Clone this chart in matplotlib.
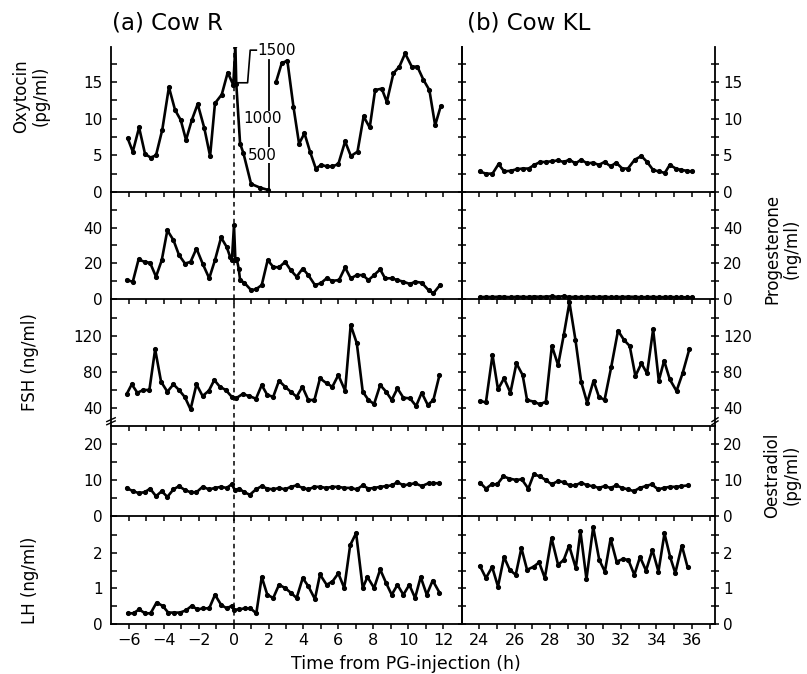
import matplotlib
matplotlib.use("Agg")
import matplotlib.pyplot as plt
import numpy as np

plt.rcParams['font.family'] = ['DejaVu Sans']

# ---------------- data: Cow R (left) ----------------
oxy_R_pre_t = [-6.07, -5.78, -5.42, -5.08, -4.76, -4.45, -4.09, -3.71, -3.36, -3.03,
               -2.73, -2.40, -2.06, -1.68, -1.35, -1.07, -0.68, -0.34, -0.02]
oxy_R_pre_v = [7.3, 5.5, 8.8, 5.2, 4.7, 5.0, 8.5, 14.3, 11.2, 9.8,
               7.1, 9.8, 12.0, 8.7, 4.9, 12.1, 13.3, 16.3, 14.6]
# spike after PG injection, in pg/ml (drawn on a x1/100 scale)
oxy_R_spike_t = [0.10, 0.15, 0.37, 0.56, 1.00, 1.51, 1.99]
oxy_R_spike_pgml = [2000, 1480, 660, 530, 110, 60, 27]
oxy_R_post_t = [2.43, 2.76, 3.08, 3.43, 3.75, 4.06, 4.38, 4.71, 5.02, 5.33,
                5.66, 6.0, 6.39, 6.72, 7.1, 7.45, 7.8, 8.11, 8.49, 8.78,
                9.16, 9.5, 9.83, 10.21, 10.53, 10.88, 11.22, 11.55, 11.87]
oxy_R_post_v = [15.0, 17.6, 17.9, 11.6, 6.6, 8.0, 5.5, 3.2, 3.7, 3.5,
                3.5, 3.8, 6.9, 4.9, 5.5, 10.3, 8.8, 13.9, 14.1, 12.3,
                16.2, 17.1, 18.9, 17.1, 17.1, 15.3, 13.9, 9.1, 11.7]
spike_scale_labels = [1500, 1000, 500]

prog_R_t = [-6.13, -5.78, -5.45, -5.1, -4.79, -4.45, -4.12, -3.8, -3.45, -3.13,
            -2.79, -2.47, -2.13, -1.78, -1.4, -1.07, -0.72, -0.4, -0.2, -0.1,
            0.02, 0.1, 0.17, 0.29, 0.37, 0.61, 1.0, 1.27, 1.61, 1.95,
            2.27, 2.6, 2.95, 3.27, 3.61, 3.96, 4.28, 4.66, 4.99, 5.33,
            5.66, 6.04, 6.39, 6.71, 7.06, 7.4, 7.73, 8.05, 8.4, 8.68,
            9.06, 9.39, 9.73, 10.11, 10.4, 10.78, 11.17, 11.45, 11.83]
prog_R_v = [10.6, 9.7, 22.2, 20.8, 20.3, 12.5, 21.8, 38.5, 33, 24.6,
            19.9, 20.8, 28.3, 19.9, 11.6, 21.8, 34.5, 29.2, 23.6, 21.8,
            41.3, 21.8, 22.7, 17.1, 10.6, 9.1, 5.0, 5.4, 7.8, 21.8,
            18, 17.7, 20.8, 16.2, 12.5, 17.1, 13.4, 7.8, 8.8, 11.6,
            10.2, 10.6, 17.7, 11.6, 13.4, 13.4, 10.6, 13.4, 16.6, 11.6,
            11.6, 10.6, 9.7, 8.4, 9.7, 9.1, 5.0, 3.2, 7.8]

fsh_R_t = [-6.13, -5.84, -5.52, -5.17, -4.83, -4.5, -4.16, -3.8, -3.45, -3.13,
           -2.79, -2.47, -2.13, -1.78, -1.42, -1.11, -0.79, -0.45, -0.11, 0.13,
           0.51, 0.89, 1.28, 1.61, 1.93, 2.27, 2.6, 2.95, 3.27, 3.61,
           3.94, 4.28, 4.63, 4.95, 5.33, 5.66, 6.0, 6.39, 6.71, 7.06,
           7.4, 7.73, 8.05, 8.4, 8.74, 9.06, 9.39, 9.73, 10.11, 10.46,
           10.78, 11.13, 11.45, 11.8]
fsh_R_v = [55.2, 66, 56.7, 59.7, 59.7, 104.9, 68.9, 57.8, 66, 59.7,
           51.6, 38.2, 66, 53, 58.9, 70.8, 63.3, 59.7, 52.2, 50.4,
           55.2, 53, 50, 65.2, 54.1, 52.2, 70, 63.3, 57.8, 52.2,
           63.3, 48.6, 48.6, 72.7, 67.1, 63.3, 76.3, 58.9, 131.9, 111.6,
           57.8, 48.6, 44.1, 65.2, 57.8, 48.6, 61.5, 51.1, 50.4, 41.9,
           56.7, 43, 48.6, 76.3]

e2_R_t = [-6.13, -5.78, -5.45, -5.1, -4.79, -4.45, -4.12, -3.8, -3.45, -3.13,
          -2.79, -2.47, -2.13, -1.78, -1.4, -1.07, -0.72, -0.4, -0.11, 0.07,
          0.32, 0.61, 0.93, 1.28, 1.61, 1.93, 2.27, 2.6, 2.95, 3.27,
          3.61, 3.96, 4.28, 4.63, 4.95, 5.3, 5.66, 6.0, 6.34, 6.71,
          7.06, 7.4, 7.73, 8.05, 8.4, 8.74, 9.06, 9.39, 9.73, 10.07,
          10.4, 10.78, 11.17, 11.45, 11.8]
e2_R_v = [7.8, 6.9, 6.4, 6.6, 7.6, 5.5, 6.9, 5.3, 7.4, 8.3,
          7.2, 6.6, 6.6, 8.1, 7.4, 7.8, 8.1, 7.8, 8.8, 7.2,
          7.6, 6.6, 5.9, 7.4, 8.3, 7.6, 7.4, 7.8, 7.4, 8.1,
          8.5, 7.8, 7.4, 8.1, 8.1, 7.8, 8.1, 8.1, 7.8, 7.8,
          7.4, 8.5, 7.6, 7.8, 8.1, 8.3, 8.5, 9.4, 8.5, 8.8,
          9.1, 8.3, 9.1, 9.1, 9.1]

lh_R_t = [-6.07, -5.74, -5.42, -5.08, -4.76, -4.42, -4.07, -3.75, -3.4, -3.08,
          -2.74, -2.4, -2.08, -1.74, -1.4, -1.07, -0.72, -0.4, -0.11, 0.02,
          0.32, 0.63, 0.96, 1.3, 1.61, 1.93, 2.27, 2.6, 2.95, 3.27,
          3.61, 3.96, 4.28, 4.66, 4.95, 5.33, 5.66, 6.0, 6.34, 6.68,
          7.02, 7.4, 7.67, 8.05, 8.4, 8.74, 9.06, 9.39, 9.73, 10.07,
          10.4, 10.72, 11.07, 11.41, 11.8]
lh_R_v = [0.30, 0.30, 0.41, 0.30, 0.30, 0.60, 0.51, 0.32, 0.32, 0.32,
          0.38, 0.51, 0.41, 0.44, 0.44, 0.82, 0.54, 0.44, 0.51, 0.40,
          0.41, 0.44, 0.44, 0.30, 1.32, 0.82, 0.73, 1.10, 1.01, 0.88,
          0.73, 1.29, 1.06, 0.70, 1.39, 1.10, 1.19, 1.42, 1.01, 2.21,
          2.55, 1.01, 1.32, 1.01, 1.53, 1.15, 0.82, 1.10, 0.82, 1.10,
          0.73, 1.32, 0.82, 1.22, 0.88]

# ---------------- data: Cow KL (right) ----------------
oxy_KL_t = [24.04, 24.38, 24.75, 25.09, 25.41, 25.79, 26.11, 26.45, 26.79, 27.11,
            27.45, 27.77, 28.11, 28.43, 28.77, 29.09, 29.43, 29.75, 30.09, 30.41,
            30.75, 31.07, 31.41, 31.73, 32.07, 32.39, 32.77, 33.15, 33.47, 33.81,
            34.15, 34.47, 34.75, 35.09, 35.41, 35.7, 35.98]
oxy_KL_v = [2.8, 2.5, 2.5, 3.8, 2.8, 2.9, 3.1, 3.2, 3.2, 3.7,
            4.1, 4.1, 4.2, 4.3, 4.1, 4.4, 3.9, 4.4, 3.9, 4.0,
            3.7, 4.1, 3.5, 4.0, 3.2, 3.2, 4.4, 4.9, 4.1, 3.0,
            2.8, 2.6, 3.7, 3.2, 3.0, 2.9, 2.8]
prog_KL_t = oxy_KL_t
prog_KL_v = [1.0, 1.2, 1.1, 1.3, 1.2, 1.0, 1.3, 1.2, 1.1, 1.4,
             1.2, 1.3, 1.5, 1.2, 1.6, 1.1, 1.2, 1.0, 1.3, 1.2,
             1.1, 1.3, 1.0, 1.2, 1.1, 1.3, 1.2, 1.0, 1.1, 1.2,
             1.0, 1.1, 1.2, 1.0, 1.1, 0.9, 1.0]
fsh_KL_t = [24.04, 24.38, 24.75, 25.06, 25.4, 25.76, 26.1, 26.45, 26.7, 27.08,
            27.42, 27.76, 28.1, 28.45, 28.77, 29.09, 29.43, 29.75, 30.09, 30.45,
            30.75, 31.07, 31.45, 31.83, 32.17, 32.49, 32.81, 33.15, 33.47, 33.81,
            34.13, 34.43, 34.75, 35.13, 35.47, 35.85]
fsh_KL_v = [47.4, 46, 98.6, 60.4, 72.7, 56.7, 89.3, 76.3, 48.6, 46.7,
            43.8, 46.7, 108.6, 87.4, 120.8, 157, 115.2, 68.9, 45.6, 70,
            52.2, 48.6, 85.6, 125.6, 115.2, 108.6, 75.2, 89.3, 78.1, 127.1,
            70, 92.2, 71.5, 58.6, 78.1, 104.9]
e2_KL_t = [24.04, 24.38, 24.7, 25.02, 25.36, 25.7, 26.08, 26.4, 26.77, 27.08,
           27.42, 27.76, 28.08, 28.45, 28.77, 29.1, 29.43, 29.75, 30.09, 30.41,
           30.75, 31.07, 31.41, 31.73, 32.07, 32.39, 32.73, 33.05, 33.39, 33.73,
           34.09, 34.41, 34.75, 35.09, 35.41, 35.79]
e2_KL_v = [9.3, 7.6, 8.8, 8.8, 11.0, 10.4, 10.0, 10.2, 7.6, 11.6,
           11.0, 10.0, 8.8, 9.7, 9.4, 8.5, 8.5, 9.3, 8.5, 8.3,
           7.8, 8.3, 7.8, 8.5, 7.8, 7.4, 6.9, 7.8, 8.3, 8.8,
           7.4, 7.8, 8.1, 8.1, 8.3, 8.5]
lh_KL_t = [24.04, 24.38, 24.73, 25.06, 25.4, 25.72, 26.06, 26.38, 26.7, 27.08,
           27.38, 27.7, 28.08, 28.45, 28.77, 29.07, 29.45, 29.71, 30.05, 30.43,
           30.77, 31.09, 31.41, 31.75, 32.09, 32.41, 32.75, 33.07, 33.41, 33.77,
           34.11, 34.45, 34.77, 35.06, 35.43, 35.75]
lh_KL_v = [1.63, 1.29, 1.60, 1.05, 1.88, 1.52, 1.38, 2.13, 1.52, 1.61,
           1.73, 1.29, 2.41, 1.66, 1.80, 2.20, 1.57, 2.60, 1.26, 2.72,
           1.80, 1.47, 2.39, 1.75, 1.82, 1.80, 1.38, 1.88, 1.50, 2.08,
           1.47, 2.54, 1.88, 1.43, 2.20, 1.60]

# axis settings
ylims = [(0, 19.78), (0, 60), (19.7, 160.8), (0, 25), (0, 3.03)]
ymajor = [[0, 5, 10, 15], [0, 20, 40], [40, 80, 120], [0, 10, 20], [0, 1, 2]]
yminor = [[2.5, 7.5, 12.5, 17.5], [10, 30, 50], [60, 100, 140], [5, 15], [0.5, 1.5, 2.5]]
left_xticks = [-6, -4, -2, 0, 2, 4, 6, 8, 10, 12]
right_xticks = [24, 26, 28, 30, 32, 34, 36]

# ---------------- figure ----------------
W, H = 807, 674
fig = plt.figure(figsize=(W / 100, H / 100), dpi=100)
rows_px = [(47, 192), (192, 299), (299, 426), (426, 516), (516, 624)]
Lx0, Lx1 = 111, 462
Rx0, Rx1 = 462, 715

def rect(x0, x1, y0, y1):
    return [x0 / W, 1 - y1 / H, (x1 - x0) / W, (y1 - y0) / H]

line_kw = dict(color='k', lw=1.9, marker='o', ms=2.7, mfc='k', mec='k', zorder=3)

axesL, axesR = [], []
for i, (y0, y1) in enumerate(rows_px):
    aL = fig.add_axes(rect(Lx0, Lx1, y0, y1))
    aR = fig.add_axes(rect(Rx0, Rx1, y0, y1))
    for a, xl in ((aL, (-7.03, 13.09)), (aR, (23.03, 37.3))):
        a.set_xlim(*xl)
        a.set_ylim(*ylims[i])
        a.set_yticks(ymajor[i])
        a.set_yticks(yminor[i], minor=True)
        a.spines['top'].set_visible(False)
        for s in a.spines.values():
            s.set_linewidth(1.3)
        a.patch.set_alpha(0)
    aL.set_xticks(left_xticks)
    aL.set_xticks(list(range(-6, 13)), minor=True)
    aR.set_xticks(right_xticks)
    aR.set_xticks(list(range(24, 38)), minor=True)
    aL.tick_params(axis='y', which='both', direction='in', left=True, right=False,
                   labelleft=True, labelsize=11, width=1.1, pad=6, length=4)
    aR.tick_params(axis='y', which='both', direction='inout', left=True, right=True,
                   labelleft=False, labelright=True, labelsize=11, width=1.1, pad=3,
                   length=6)
    for a in (aL, aR):
        a.tick_params(axis='x', which='both', direction='out', length=3.5, width=1.1,
                      labelsize=11.5, labelbottom=(i == 4), pad=3)
    aL.axvline(0, color='k', lw=1.1, ls=(0, (3, 2.5)), zorder=1)
    axesL.append(aL)
    axesR.append(aR)

axesL[4].set_xticklabels([f"{t:d}".replace('-', '\u2212') for t in left_xticks])
axesR[4].set_xticklabels([str(t) for t in right_xticks])

# ---- oxytocin cow R ----
ax = axesL[0]
spike_scaled = [v / 100 for v in oxy_R_spike_pgml]
ax.plot(oxy_R_pre_t + oxy_R_spike_t, oxy_R_pre_v + spike_scaled, **line_kw)
ax.plot(oxy_R_post_t, oxy_R_post_v, **line_kw)
# secondary scale for the spike
ax.plot([2.02, 2.02], [0.27, 18.0], color='k', lw=1.3, zorder=1)
ax.plot([0.18, 0.8, 0.95, 1.3], [14.9, 14.9, 19.35, 19.35], color='k', lw=1.2,
        zorder=1, clip_on=False)
ax.text(1.35, 19.35, f"{spike_scale_labels[0]}", fontsize=11, va='center', ha='left')
for lab in spike_scale_labels[1:]:
    ax.text(1.66, lab / 100, f"{lab}", fontsize=11, va='center', ha='center', zorder=2,
            bbox=dict(facecolor='white', edgecolor='none', pad=0.3))

axesL[1].plot(prog_R_t, prog_R_v, **line_kw)
axesL[2].plot(fsh_R_t, fsh_R_v, **line_kw)
axesL[3].plot(e2_R_t, e2_R_v, **line_kw)
axesL[4].plot(lh_R_t, lh_R_v, **line_kw)

axesR[0].plot(oxy_KL_t, oxy_KL_v, **line_kw)
axesR[1].plot(prog_KL_t, prog_KL_v, **line_kw)
axesR[2].plot(fsh_KL_t, fsh_KL_v, **line_kw)
axesR[3].plot(e2_KL_t, e2_KL_v, **line_kw)
axesR[4].plot(lh_KL_t, lh_KL_v, **line_kw)

# break marks on FSH axis
for a, xpos in ((axesL[2], 0.0), (axesR[2], 1.0)):
    for dy in (0.025, 0.05):
        a.plot([xpos - 0.012, xpos + 0.012], [dy - 0.015, dy + 0.015],
               transform=a.transAxes, color='k', lw=1.0, clip_on=False)

# titles and labels
fig.text(112 / W, 1 - 23 / H, '(a) Cow R', fontsize=16.5, ha='left', va='center')
fig.text(467 / W, 1 - 23 / H, '(b) Cow KL', fontsize=16.5, ha='left', va='center')
fig.text(406 / W, 1 - 664 / H, 'Time from PG-injection (h)', fontsize=12.5,
         ha='center', va='center')
fig.text(31 / W, 1 - 96 / H, 'Oxytocin\n(pg/ml)', rotation=90, fontsize=12,
         ha='center', va='center', linespacing=1.1)
fig.text(30 / W, 1 - 362 / H, 'FSH (ng/ml)', rotation=90, fontsize=12,
         ha='center', va='center')
fig.text(30 / W, 1 - 580 / H, 'LH (ng/ml)', rotation=90, fontsize=12,
         ha='center', va='center')
fig.text(782 / W, 1 - 249 / H, 'Progesterone\n(ng/ml)', rotation=90, fontsize=12,
         ha='center', va='center', linespacing=1.1)
fig.text(782 / W, 1 - 475 / H, 'Oestradiol\n(pg/ml)', rotation=90, fontsize=12,
         ha='center', va='center', linespacing=1.1)

fig.savefig('out.png', dpi=100)
